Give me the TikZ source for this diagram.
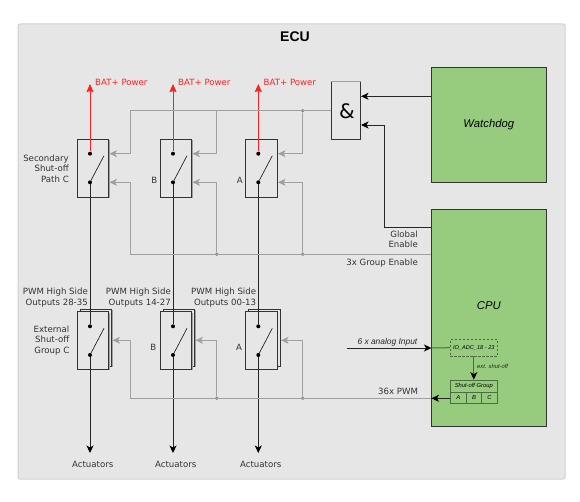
\documentclass[tikz,border=0pt]{standalone}
\usepackage{fontspec}
\setmainfont{DejaVu Sans}
\newfontfamily\arialfont{Liberation Sans}
\usetikzlibrary{arrows.meta,shadows}
\definecolor{panelgray}{HTML}{E6E6E6}
\definecolor{panelline}{HTML}{D0D0D0}
\definecolor{ecugreen}{HTML}{97CC7F}
\definecolor{wiregray}{HTML}{A0A0A0}
\definecolor{boxline}{HTML}{333333}
\definecolor{powerred}{HTML}{FF2020}
\definecolor{innerline}{HTML}{4F6B42}
\tikzset{
  switchbox/.style={draw=boxline,line width=0.8pt,fill=panelgray,minimum width=31.4pt,minimum height=57.6pt,inner sep=0pt,drop shadow={shadow xshift=0.8pt,shadow yshift=-0.8pt,fill=wiregray,opacity=1}},
  ecublock/.style={draw=boxline,line width=0.8pt,fill=ecugreen,minimum width=115pt,inner sep=0pt,font=\arialfont\itshape\fontsize{11.3}{14}\selectfont},
  gatebox/.style={draw=boxline,line width=0.8pt,fill=panelgray,minimum width=29.4pt,minimum height=57.6pt,inner sep=0pt},
  lbl/.style={inner sep=0pt,font=\fontsize{8.6}{10.5}\selectfont,text=black!80},
  lblr/.style={lbl,align=right,anchor=east},
  small/.style={inner sep=0pt,font=\arialfont\itshape\fontsize{5.8}{7}\selectfont,text=black!85},
  cell/.style={draw=innerline,line width=0.7pt,inner sep=0pt,font=\arialfont\itshape\fontsize{5.8}{6}\selectfont},
  pin/.style={circle,fill=black,minimum size=4pt,inner sep=0pt},
  junction/.style={circle,fill=wiregray!85!black,minimum size=3.8pt,inner sep=0pt},
  blackwire/.style={draw=black!85,line width=0.9pt,-{Stealth[length=7.5pt,width=7pt,inset=2pt,color=black]}},
  plainwire/.style={draw=black!85,line width=0.9pt},
  graywire/.style={draw=wiregray,line width=1pt},
  grayarrow/.style={graywire,-{Stealth[length=7.5pt,width=7pt,inset=2pt]}},
  redwire/.style={draw=powerred,line width=0.9pt,-{Stealth[length=8pt,width=7pt,inset=1pt]}},
  blade/.style={draw=black!85,line width=0.7pt},
}
\begin{document}
\begin{tikzpicture}[x=1pt,y=-1pt]
\useasboundingbox (0,0) rectangle (580,502);
% panel
\node [draw=panelline,line width=1pt,fill=panelgray,rounded corners=2pt,minimum width=547pt,minimum height=455pt,inner sep=0pt] (panel) at (291.5,251.5) {};
\node [inner sep=0pt,font=\arialfont\bfseries\fontsize{14}{16}\selectfont] (title) at (295,37) {ECU};
% green blocks
\node [ecublock,minimum height=115pt] (watchdog) at (488.8,124.8) {Watchdog};
\node [ecublock,minimum height=216.6pt] (cpu) at (488.8,318) {};
\node [inner sep=0pt,font=\arialfont\itshape\fontsize{11.3}{14}\selectfont] (cpulabel) at (488.8,306) {CPU};
\node [gatebox] (gate) at (346,110.5) {};
\node [inner sep=0pt,font=\fontsize{20}{24}\selectfont] (amp) at (347,111.5) {\&};
\draw [graywire] (gate.north west) -- (gate.north east);
% secondary switches
\node [switchbox] (secC) at (93,168.2) {};
\node [switchbox] (secB) at (176,168.2) {};
\node [switchbox] (secA) at (261.2,168.2) {};
% external switches, back sheet first
\node [switchbox] (backC) at (96,337.7) {};
\node [switchbox] (backB) at (179,337.7) {};
\node [switchbox] (backA) at (264.2,337.7) {};
\node [switchbox,drop shadow={opacity=0}] (extC) at (93,340.5) {};
\node [switchbox,drop shadow={opacity=0}] (extB) at (176,340.5) {};
\node [switchbox,drop shadow={opacity=0}] (extA) at (261.2,340.5) {};
% pins
\node [pin] (secCtop) at (90,153.7) {};
\node [pin] (secCbot) at (90,182.3) {};
\node [pin] (secBtop) at (173,153.7) {};
\node [pin] (secBbot) at (173,182.3) {};
\node [pin] (secAtop) at (258.3,153.7) {};
\node [pin] (secAbot) at (258.3,182.3) {};
\node [pin] (extCtop) at (90,326.3) {};
\node [pin] (extCbot) at (90,355) {};
\node [pin] (extBtop) at (173,326.3) {};
\node [pin] (extBbot) at (173,355) {};
\node [pin] (extAtop) at (258.3,326.3) {};
\node [pin] (extAbot) at (258.3,355) {};
% free ends
\coordinate (powC) at (90,84);
\coordinate (powB) at (173,84);
\coordinate (powA) at (258.3,84);
\coordinate (actC) at (90,453);
\coordinate (actB) at (173,453);
\coordinate (actA) at (258.3,453);
\coordinate (bladeSecC) at (104,155.7);
\coordinate (bladeSecB) at (187,155.7);
\coordinate (bladeSecA) at (272.3,155.7);
\coordinate (bladeExtC) at (104,328.3);
\coordinate (bladeExtB) at (187,328.3);
\coordinate (bladeExtA) at (272.3,328.3);
% power and load lines
\draw [redwire] (secCtop) -- (powC);
\draw [redwire] (secBtop) -- (powB);
\draw [redwire] (secAtop) -- (powA);
\draw [plainwire] (secCbot) -- (extCtop);
\draw [plainwire] (secBbot) -- (extBtop);
\draw [plainwire] (secAbot) -- (extAtop);
\draw [blackwire] (extCbot) -- (actC);
\draw [blackwire] (extBbot) -- (actB);
\draw [blackwire] (extAbot) -- (actA);
\draw [blade] (secCbot) -- (bladeSecC);
\draw [blade] (secBbot) -- (bladeSecB);
\draw [blade] (secAbot) -- (bladeSecA);
\draw [blade] (extCbot) -- (bladeExtC);
\draw [blade] (extBbot) -- (bladeExtB);
\draw [blade] (extAbot) -- (bladeExtA);
% gate output
\coordinate (busTopC) at (130,110.7);
\coordinate (busTopB) at (216.7,110.7);
\node [junction] (busTopA) at (302.7,110.7) {};
\coordinate (inTopC) at (109.5,153.7);
\coordinate (inTopB) at (192.5,153.7);
\coordinate (inTopA) at (278,153.7);
\draw [graywire] (gate.west|-busTopA) -- (busTopC);
\draw [grayarrow] (busTopC) |- (inTopC);
\draw [grayarrow] (busTopB) |- (inTopB);
\draw [grayarrow] (busTopA) |- (inTopA);
% group enable
\coordinate (busMidC) at (130,254.3);
\node [junction] (busMidB) at (216.7,254.3) {};
\node [junction] (busMidA) at (302.7,254.3) {};
\coordinate (inMidC) at (109.5,182.3);
\coordinate (inMidB) at (192.5,182.3);
\coordinate (inMidA) at (278,182.3);
\draw [graywire] (cpu.west|-busMidA) -- (busMidC);
\draw [grayarrow] (busMidC) |- (inMidC);
\draw [grayarrow] (busMidB) |- (inMidB);
\draw [grayarrow] (busMidA) |- (inMidA);
% pwm
\coordinate (busLowC) at (130,398.3);
\node [junction] (busLowB) at (216.7,398.3) {};
\node [junction] (busLowA) at (302.7,398.3) {};
\coordinate (inLowC) at (112.5,340.3);
\coordinate (inLowB) at (195.5,340.3);
\coordinate (inLowA) at (281,340.3);
\draw [graywire] (cpu.west|-busLowA) -- (busLowC);
\draw [grayarrow] (busLowC) |- (inLowC);
\draw [grayarrow] (busLowB) |- (inLowB);
\draw [grayarrow] (busLowA) |- (inLowA);
% gate inputs
\coordinate (gateInA) at (361,96.3);
\coordinate (gateInB) at (361,125);
\coordinate (globalOut) at (431.3,227.3);
\draw [blackwire] (watchdog.west|-gateInA) -- (gateInA);
\draw [blackwire] (globalOut) -| (384.3,125) -- (gateInB);
% inside the cpu
\node [draw=innerline,dash pattern=on 2.5pt off 1.5pt,line width=0.7pt,minimum width=47pt,minimum height=16.7pt,inner sep=0pt,font=\arialfont\itshape\fontsize{5.6}{6}\selectfont] (adc) at (473.8,347.7) {IO\_ADC\_18 - 23};
\node [cell,minimum width=47pt,minimum height=12pt] (group) at (473.8,386) {Shut-off Group};
\node [cell,minimum width=16pt,minimum height=11.3pt] (groupA) at (458.3,397.7) {A};
\node [cell,minimum width=15.4pt,minimum height=11.3pt] (groupB) at (474,397.7) {B};
\node [cell,minimum width=15.6pt,minimum height=11.3pt] (groupC) at (489.5,397.7) {C};
\coordinate (analogIn) at (346.7,348);
\coordinate (analogTip) at (431.5,348);
\coordinate (pwmTip) at (431.5,398.3);
\draw [blackwire] (analogIn) -- (analogTip);
\draw [draw=innerline,line width=1pt] (analogTip) -- (adc.west);
\draw [blackwire,draw=innerline] (adc.south) -- (group.north);
\draw [blackwire] (groupA.west|-pwmTip) -- (pwmTip);
% labels
\node [lbl,text=powerred,anchor=west] (batC) at (95,82.3) {BAT+ Power};
\node [lbl,text=powerred,anchor=west] (batB) at (178,82.3) {BAT+ Power};
\node [lbl,text=powerred,anchor=west] (batA) at (263.5,82.3) {BAT+ Power};
\node [lblr] (secClabel) at (69,168.3) {Secondary\\Shut-off\\Path C};
\node [lbl] (secBlabel) at (154.3,180) {B};
\node [lbl] (secAlabel) at (239.7,180) {A};
\node [lblr] (extClabel) at (69.5,340.3) {External\\Shut-off\\Group C};
\node [lbl] (extBlabel) at (153.3,347.3) {B};
\node [lbl] (extAlabel) at (239,347.3) {A};
\node [lblr] (pwmC) at (88,297.5) {PWM High Side\\Outputs 28-35};
\node [lblr] (pwmB) at (171,297.5) {PWM High Side\\Outputs 14-27};
\node [lblr] (pwmA) at (256.3,297.5) {PWM High Side\\Outputs 00-13};
\node [lbl] (actClabel) at (92.7,464.7) {Actuators};
\node [lbl] (actBlabel) at (175.7,464.7) {Actuators};
\node [lbl] (actAlabel) at (260.7,464.7) {Actuators};
\node [lblr] (globallabel) at (418,239.3) {Global\\Enable};
\node [lblr] (grouplabel) at (418,263) {3x Group Enable};
\node [lblr] (pwmlabel) at (418.3,391.7) {36x PWM};
\node [inner sep=0pt,anchor=east,font=\arialfont\itshape\fontsize{8.4}{10}\selectfont,text=black!85] (analoglabel) at (417.5,342.5) {6 x analog Input};
\node [small,anchor=west] (shutlabel) at (477,366.7) {ext. shut-off};
\end{tikzpicture}
\end{document}
